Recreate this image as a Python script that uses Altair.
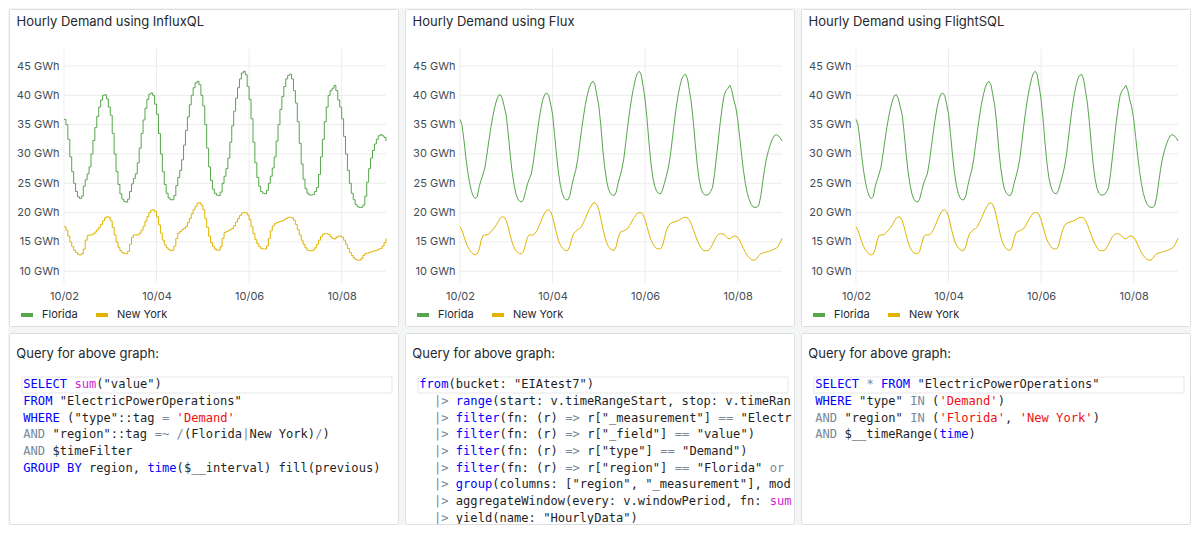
import altair as alt
import pandas as pd

# ---------------- data ----------------
regions = ["Florida", "New York"]
region_colors = ["#56A64B", "#E0B400"]

florida = [
    35.9, 35.0, 32.5, 29.5, 27.0, 25.0, 23.6, 22.7, 22.4, 22.8, 24.5, 25.6,
    26.6, 27.8, 30.0, 32.3, 34.5, 36.4, 38.0, 39.2, 40.0, 40.1, 39.4, 38.0,
    36.6, 33.5, 30.0, 27.0, 24.8, 23.2, 22.3, 21.9, 21.8, 22.3, 23.6, 24.9,
    25.8, 26.6, 28.5, 31.0, 33.5, 35.8, 37.8, 39.3, 40.2, 40.4, 40.0, 38.5,
    36.8, 33.5, 30.0, 27.0, 24.8, 23.3, 22.5, 22.2, 22.2, 22.9, 24.6, 26.0,
    27.2, 29.0, 31.5, 34.0, 36.3, 38.4, 40.0, 41.3, 42.1, 42.4, 41.8, 40.0,
    38.2, 35.0, 31.0, 27.8, 25.5, 24.0, 23.3, 23.0, 22.9, 23.5, 25.0, 26.2,
    27.5, 29.3, 32.0, 34.8, 37.3, 39.5, 41.3, 42.8, 43.8, 44.1, 43.5, 41.5,
    39.3, 36.0, 32.0, 28.5, 26.0, 24.5, 23.6, 23.3, 23.2, 23.8, 25.0, 26.2,
    27.6, 29.5, 32.2, 35.0, 37.6, 39.8, 41.5, 42.8, 43.4, 43.6, 42.8, 40.8,
    38.7, 35.5, 31.8, 28.3, 25.7, 24.1, 23.3, 23.0, 23.0, 23.1, 23.6, 24.3,
    26.5, 29.5, 32.5, 35.5, 38.0, 40.0, 40.8, 41.2, 41.7, 40.8, 39.2, 38.0,
    36.0, 33.0, 30.0, 27.2, 25.0, 23.3, 22.2, 21.4, 21.0, 20.9, 20.9, 21.3,
    22.8, 25.2, 27.5, 29.3, 30.6, 31.7, 32.5, 33.1, 33.3, 33.1, 32.8, 32.2,
]
new_york = [
    17.6, 17.0, 16.0, 15.0, 14.2, 13.6, 13.2, 12.9, 12.8, 13.0, 13.8, 15.3,
    16.1, 16.2, 16.2, 16.4, 16.7, 17.1, 17.5, 18.0, 18.6, 19.1, 19.3, 19.2,
    18.6, 17.5, 16.2, 15.0, 14.1, 13.5, 13.2, 13.0, 13.0, 13.4, 14.6, 15.8,
    16.2, 16.2, 16.2, 16.5, 17.0, 17.7, 18.5, 19.3, 20.0, 20.4, 20.5, 20.2,
    19.3, 17.9, 16.5, 15.3, 14.5, 14.0, 13.7, 13.5, 13.6, 14.3, 15.6, 16.5,
    16.8, 17.1, 17.3, 17.6, 18.3, 19.0, 19.8, 20.5, 21.1, 21.6, 21.7, 21.3,
    20.5, 19.0, 17.5, 16.0, 14.9, 14.2, 13.8, 13.6, 13.6, 14.2, 15.6, 16.6,
    16.8, 16.9, 17.1, 17.3, 17.8, 18.4, 19.0, 19.5, 19.9, 20.0, 20.0, 19.6,
    18.8, 17.6, 16.4, 15.4, 14.7, 14.2, 13.9, 13.8, 13.8, 14.3, 15.6, 16.9,
    17.7, 18.1, 18.3, 18.4, 18.5, 18.6, 18.8, 19.0, 19.2, 19.2, 19.1, 18.7,
    18.0, 17.1, 16.2, 15.3, 14.6, 14.0, 13.6, 13.5, 13.5, 13.6, 14.0, 14.6,
    15.3, 15.9, 16.3, 16.4, 16.4, 16.3, 15.9, 15.6, 15.5, 15.8, 16.0, 16.0,
    15.8, 15.3, 14.6, 13.9, 13.2, 12.7, 12.3, 12.0, 11.9, 11.9, 12.2, 12.7,
    13.0, 13.1, 13.2, 13.3, 13.4, 13.5, 13.6, 13.8, 13.9, 14.3, 14.9, 15.6,
]
start_time = "2023-10-02 00:00"
x_tick_labels = ["10/02", "10/04", "10/06", "10/08"]
y_ticks = [10, 15, 20, 25, 30, 35, 40, 45]
panel_titles = ["Hourly Demand using InfluxQL", "Hourly Demand using Flux",
                "Hourly Demand using FlightSQL"]
query_header = "Query for above graph:"

influxql_code = [
    [("SELECT", "kw"), (" ", "txt"), ("sum", "fn"), ('("value")', "txt")],
    [("FROM", "kw"), (' "ElectricPowerOperations"', "txt")],
    [("WHERE", "kw"), (' ("type"::tag ', "txt"), ("=", "op"), (" ", "txt"), ("'Demand'", "str")],
    [("AND", "op"), (' "region"::tag ', "txt"), ("=~", "op"), (" ", "txt"), ("/", "op"),
     ("(Florida", "txt"), ("|", "op"), ("New York)", "txt"), ("/", "op"), (")", "txt")],
    [("AND", "op"), (" $timeFilter", "txt")],
    [("GROUP", "kw"), (" ", "txt"), ("BY", "kw"), (" region, ", "txt"), ("time", "kw"),
     ("($__interval) fill(previous)", "txt")],
]
flux_code = [
    [("from", "kw"), ('(bucket: "EIAtest7")', "txt")],
    [("  ", "txt"), ("|>", "op"), (" ", "txt"), ("range", "kw"),
     ("(start: v.timeRangeStart, stop: v.timeRangeStop)", "txt")],
    [("  ", "txt"), ("|>", "op"), (" ", "txt"), ("filter", "kw"), ("(fn: (r) ", "txt"), ("=>", "op"),
     (' r["_measurement"] ', "txt"), ("==", "op"), (' "ElectricPowerOperations")', "txt")],
    [("  ", "txt"), ("|>", "op"), (" ", "txt"), ("filter", "kw"), ("(fn: (r) ", "txt"), ("=>", "op"),
     (' r["_field"] ', "txt"), ("==", "op"), (' "value")', "txt")],
    [("  ", "txt"), ("|>", "op"), (" ", "txt"), ("filter", "kw"), ("(fn: (r) ", "txt"), ("=>", "op"),
     (' r["type"] ', "txt"), ("==", "op"), (' "Demand")', "txt")],
    [("  ", "txt"), ("|>", "op"), (" ", "txt"), ("filter", "kw"), ("(fn: (r) ", "txt"), ("=>", "op"),
     (' r["region"] ', "txt"), ("==", "op"), (' "Florida" ', "txt"), ("or", "op"),
     (' r["region"] ', "txt"), ("==", "op"), (' "New York")', "txt")],
    [("  ", "txt"), ("|>", "op"), (" ", "txt"), ("group", "kw"),
     ('(columns: ["region", "_measurement"], mode: "by")', "txt")],
    [("  ", "txt"), ("|>", "op"), (" ", "txt"), ("aggregateWindow(every: v.windowPeriod, fn: ", "txt"),
     ("sum", "fn"), (", createEmpty: false)", "txt")],
    [("  ", "txt"), ("|>", "op"), (" ", "txt"), ('yield(name: "HourlyData")', "txt")],
]
flightsql_code = [
    [("SELECT", "kw"), (" ", "txt"), ("*", "op"), (" ", "txt"), ("FROM", "kw"),
     (' "ElectricPowerOperations"', "txt")],
    [("WHERE", "kw"), (' "type" ', "txt"), ("IN", "op"), (" (", "txt"), ("'Demand'", "str"), (")", "txt")],
    [("AND", "op"), (' "region" ', "txt"), ("IN", "op"), (" (", "txt"), ("'Florida'", "str"),
     (", ", "txt"), ("'New York'", "str"), (")", "txt")],
    [("AND", "op"), (" $__timeRange(", "txt"), ("time", "kw"), (")", "txt")],
]
token_kinds = ["kw", "fn", "str", "op", "txt"]
token_colors = ["#0000ff", "#d21ed2", "#f01010", "#778899", "#1f1f1f"]

# ---------------- styles / layout (pixels inside each panel) ----------------
TEXT = "#24292e"
AXIS_TEXT = "#464c54"
GRID = "#ededed"
BORDER = "#dcdedf"
PANEL_W, GAP = 389, 7
TOP_H, BOT_H = 317, 191
PX0, PX1 = 55, 377          # plot area, x
PY0, PY1 = 40, 274          # plot area, y
CX0, CX1 = 13, 383          # code editor area, x
CY0 = 44                    # code editor area, top
HDR_Y = 20.7
CHAR_W, LINE_H = 7.3, 16.67
TEXT_X0 = CX0 + 1.3
VISIBLE_COLS = int((CX1 - TEXT_X0) / CHAR_W) + 1   # editor scrolls: the rest is hidden

# ---------------- tables ----------------
times = pd.date_range(start_time, periods=len(florida), freq="h")
df = pd.concat([
    pd.DataFrame({"time": times, "value": florida, "region": regions[0]}),
    pd.DataFrame({"time": times, "value": new_york, "region": regions[1]}),
], ignore_index=True)
one = pd.DataFrame({"a": [0]})
kind_color = dict(zip(token_kinds, token_colors))
x_tick_times = pd.to_datetime(["2023-" + t.replace("/", "-") for t in x_tick_labels])
ygrid_df = pd.DataFrame({"value": y_ticks})
xgrid_df = pd.DataFrame({"time": x_tick_times})

x_values = [alt.DateTime(year=2023, month=int(t[:2]), date=int(t[3:])) for t in x_tick_labels]
x_domain = [alt.DateTime(year=2023, month=10, date=2),
            alt.DateTime(year=2023, month=10, date=8, hours=23)]

X_ENC = alt.X("time:T", title=None,
              scale=alt.Scale(domain=x_domain, range=[PX0, PX1]),
              axis=alt.Axis(values=x_values, format="%m/%d", grid=False, domain=False,
                            ticks=False, tickSize=0, labelPadding=7, labelFlush=False,
                            offset=-(TOP_H - PY1), labelFont="Inter", labelFontSize=11,
                            labelColor=AXIS_TEXT))
Y_ENC = alt.Y("value:Q", title=None,
              scale=alt.Scale(domain=[8, 47.9], range=[PY1, PY0], nice=False, zero=False),
              axis=alt.Axis(values=y_ticks, labelExpr="datum.value + ' GWh'", grid=False,
                            domain=False, ticks=False, tickSize=0, labelPadding=5,
                            offset=-PX0, labelFont="Inter", labelFontSize=11,
                            labelColor=AXIS_TEXT))


def top_panel(title, interp):
    ttl = alt.Chart(one).mark_text(align="left", baseline="middle", font="Inter", fontSize=13,
                                   color=TEXT).encode(
        x=alt.value(7.5), y=alt.value(12.7), text=alt.value(title))
    ygrid = alt.Chart(ygrid_df).mark_rule(color=GRID, strokeWidth=1).encode(
        y=Y_ENC, x=alt.value(PX0), x2=alt.value(PX1))
    xgrid = alt.Chart(xgrid_df).mark_rule(color=GRID, strokeWidth=1).encode(
        x=X_ENC, y=alt.value(PY0), y2=alt.value(PY1))
    lines = alt.Chart(df).mark_line(strokeWidth=1, interpolate=interp).encode(
        x=X_ENC, y=Y_ENC,
        color=alt.Color("region:N", scale=alt.Scale(domain=regions, range=region_colors),
                        legend=alt.Legend(orient="none", legendX=PX0 - 45, legendY=PY0 + 258,
                                          direction="horizontal", title=None,
                                          symbolType="stroke", symbolSize=144,
                                          symbolStrokeWidth=4, labelFont="Inter",
                                          labelFontSize=11, labelColor=TEXT, labelOffset=7,
                                          columnPadding=10, padding=0)),
    )
    return alt.layer(ttl, ygrid, xgrid, lines).properties(width=PANEL_W, height=TOP_H)


def tokens_table(code):
    rows = []
    for li, line in enumerate(code):
        col = 0
        for text, kind in line:
            lead = len(text) - len(text.lstrip())
            start = col + lead
            shown = text.strip()[:max(0, VISIBLE_COLS - start)]
            if shown.strip():
                rows.append({"line": li, "col": start, "text": shown,
                             "color": kind_color[kind]})
            col += len(text)
    return pd.DataFrame(rows)


def code_panel(code):
    hdr = alt.Chart(one).mark_text(align="left", baseline="middle", font="Inter", fontSize=13,
                                   color=TEXT).encode(
        x=alt.value(7.3), y=alt.value(HDR_Y), text=alt.value(query_header))
    hl = alt.Chart(one).mark_rect(fill="white", stroke="#e6e7e8", strokeWidth=1).encode(
        x=alt.value(CX0), x2=alt.value(CX1), y=alt.value(CY0), y2=alt.value(CY0 + 16))
    y0 = CY0 + 7.3
    toks = alt.Chart(tokens_table(code)).mark_text(
        align="left", baseline="middle", font="DejaVu Sans Mono", fontSize=12.1, clip=True).encode(
        x=alt.X("col:Q", scale=alt.Scale(domain=[0, 100], range=[TEXT_X0, TEXT_X0 + 100 * CHAR_W],
                                         nice=False, zero=False), axis=None),
        y=alt.Y("line:Q", scale=alt.Scale(domain=[0, 10], range=[y0, y0 + 10 * LINE_H],
                                          nice=False, zero=False), axis=None),
        color=alt.Color("color:N", scale=None),
        text="text:N",
    )
    return alt.layer(hdr, hl, toks).properties(width=PANEL_W, height=BOT_H)


panels = [
    top_panel(panel_titles[0], "step-after"),
    top_panel(panel_titles[1], "linear"),
    top_panel(panel_titles[2], "linear"),
    code_panel(influxql_code),
    code_panel(flux_code),
    code_panel(flightsql_code),
]

chart = alt.concat(
    *panels, columns=3, bounds="flush", align="all", spacing=GAP,
).resolve_scale(color="independent").properties(
    padding=0, background="#f4f5f5"
).configure_view(fill="white", stroke=BORDER, strokeWidth=1, cornerRadius=2)

chart.save("out.html", embed_options={"renderer": "svg", "actions": False})
